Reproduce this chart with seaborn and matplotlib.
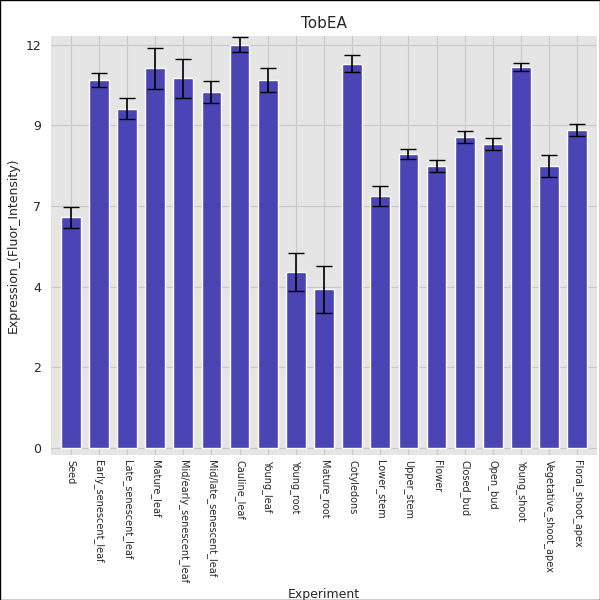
import matplotlib
matplotlib.use("Agg")
import matplotlib.pyplot as plt
import seaborn as sns
import pandas as pd

px = 33.6
samples = ["Seed", "Early_senescent_leaf", "Late_senescent_leaf", "Mature_leaf",
           "Mid/early_senescent_leaf", "Mid/late_senescent_leaf", "Cauline_leaf",
           "Young_leaf", "Young_root", "Mature_root", "Cotyledons", "Lower_stem",
           "Upper_stem", "Flower", "Closed_bud", "Open_bud", "Young_shoot",
           "Vegetative_shoot_apex", "Floral_shoot_apex"]
values = [6.87, 10.95, 10.1, 11.3, 11.0, 10.6, 12.0, 10.95, 5.24, 4.73, 11.43,
          7.5, 8.75, 8.39, 9.26, 9.05, 11.34, 8.39, 9.46]
errors = [0.31, 0.21, 0.31, 0.61, 0.59, 0.33, 0.22, 0.36, 0.56, 0.70, 0.25,
          0.30, 0.15, 0.18, 0.18, 0.19, 0.12, 0.33, 0.18]

df = pd.DataFrame({"sample": samples, "value": values, "err": errors})

sns.set_style("whitegrid")
plt.rcParams['font.family'] = ['DejaVu Sans']
fig = plt.figure(figsize=(6, 6), dpi=100)
fig.patches.append(plt.Rectangle((0, 0), 1, 1, transform=fig.transFigure,
                                 fill=False, edgecolor="black", lw=1))
ax = fig.add_axes([0.085, 0.242, 0.91, 0.698])
ax.set_facecolor("#e5e5e5")
sns.barplot(data=df, x="sample", y="value", color="#4b44b4", saturation=1,
            width=0.7, ax=ax, zorder=2)
ax.errorbar(range(len(samples)), values, yerr=errors, fmt="none",
            ecolor="black", capsize=6, lw=1.2, zorder=3)
ax.set_xlim(-0.7, len(samples) - 0.3)
ax.set_ylim(-0.2, 12.26)
ax.set_yticks([0, 2.4, 4.8, 7.2, 9.6, 12])
ax.set_yticklabels(["0", "2", "4", "7", "9", "12"])
ax.grid(True, color="#c8c8c8", lw=0.8, zorder=0)
ax.set_axisbelow(True)
ax.tick_params(axis="x", labelrotation=-90, labelsize=7, length=0)
ax.tick_params(axis="y", labelsize=9)
for s in ax.spines.values():
    s.set_visible(False)
ax.set_xlabel("Experiment", fontsize=9)
ax.set_ylabel("Expression_(Fluor_Intensity)", fontsize=9)
ax.set_title("TobEA", fontsize=11)
fig.savefig("out.png")
